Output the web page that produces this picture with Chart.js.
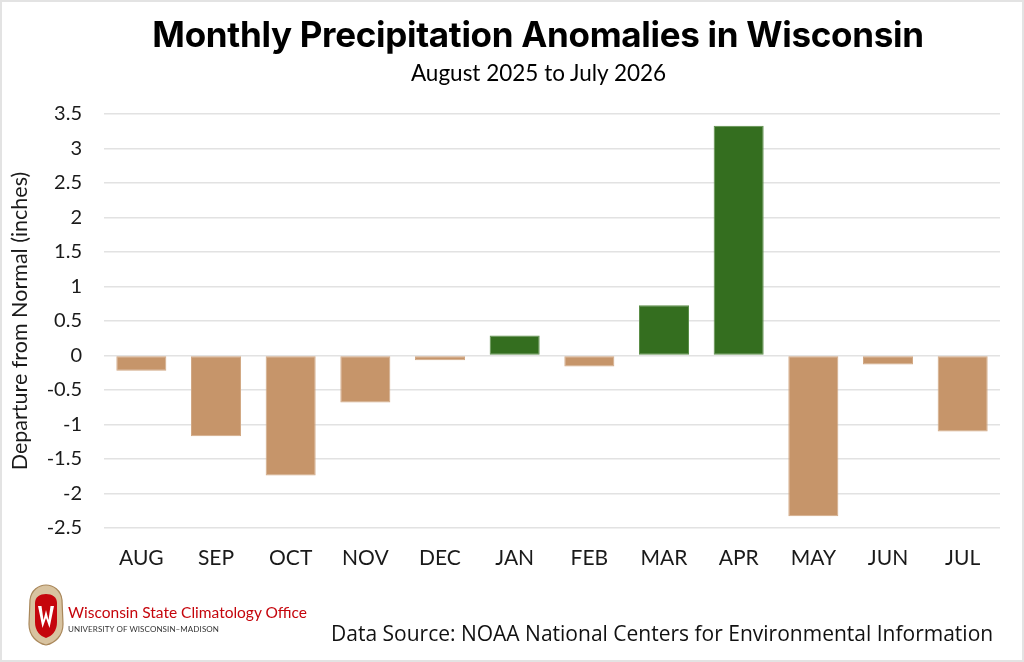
<!DOCTYPE html>
<html>
<head>
<meta charset="utf-8">
<script src="https://cdn.jsdelivr.net/npm/chart.js@4/dist/chart.umd.min.js"></script>
<style>
  html, body { margin: 0; padding: 0; background: #fff; }
  #wrap { position: relative; width: 1024px; height: 662px; overflow: hidden; }
  #frame { position: absolute; left: 0; top: 0; width: 1020px; height: 658px; border: 2px solid #e3e3e3; pointer-events: none; }
  canvas { position: absolute; left: 0; top: 0; }
  .txt { position: absolute; white-space: nowrap; color: #000; }
  #title { left: 0; width: 1076px; top: 13px; text-align: center; font: 700 35px "Inter", sans-serif; letter-spacing: -0.3px; }
  #subtitle { left: 0; width: 1077px; top: 59px; text-align: center; font: 400 22.5px "Lato", sans-serif; }
  #wsco { left: 68px; top: 603px; font: 400 15.5px "Lato", sans-serif; color: #c5050c; }
  #uw { left: 68px; top: 624px; font: 400 8px "Lato", sans-serif; color: #333; letter-spacing: 0.1px; }
  #source { left: 331px; top: 619px; font: 400 21px "Open Sans", sans-serif; color: #111; }
  #logo { position: absolute; left: 27px; top: 584px; }
</style>
</head>
<body>
<div id="wrap">
  <canvas id="precipChart" width="1024" height="662"></canvas>
  <div id="title" class="txt">Monthly Precipitation Anomalies in Wisconsin</div>
  <div id="subtitle" class="txt">August 2025 to July 2026</div>
  <svg id="logo" width="38" height="62" viewBox="0 0 38 62">
    <path d="M19 1 C26 1 34 6 35 16 L36 40 C36 52 28 59 19 61 C10 59 2 52 2 40 L3 16 C4 6 12 1 19 1 Z" fill="#d8c3a0" stroke="#a9875a" stroke-width="1.2"/>
    <path d="M19 10 C25 10 30 13 30 19 L30 38 C30 47 25 52 19 54 C13 52 8 47 8 38 L8 19 C8 13 13 10 19 10 Z" fill="#c5050c"/>
    <path d="M11 22 L14.5 22 L16.5 36 L19 26 L21.5 36 L23.5 22 L27 22 L22.5 44 L19 34 L15.5 44 Z" fill="#fff"/>
  </svg>
  <div id="wsco" class="txt">Wisconsin State Climatology Office</div>
  <div id="uw" class="txt">UNIVERSITY OF WISCONSIN–MADISON</div>
  <div id="source" class="txt">Data Source: NOAA National Centers for Environmental Information</div>
  <div id="frame"></div>
</div>
<script>
// months on the x axis
var months = ['AUG', 'SEP', 'OCT', 'NOV', 'DEC', 'JAN', 'FEB', 'MAR', 'APR', 'MAY', 'JUN', 'JUL'];
// departure from normal, inches
var departures = [-0.22, -1.17, -1.74, -0.68, -0.07, 0.29, -0.16, 0.73, 3.33, -2.33, -0.13, -1.10];
// y axis range and step
var yMin = -2.5;
var yMax = 3.5;
var yStep = 0.5;

var wetColor = '#346e1f';
var dryColor = '#c6956a';

var ctx = document.getElementById('precipChart');
var myChart = new Chart(ctx, {
    type: 'bar',
    data: {
        labels: months,
        datasets: [{
            data: departures,
            backgroundColor: departures.map(function(v) { return v >= 0 ? wetColor : dryColor; }),
            borderColor: departures.map(function(v) { return v >= 0 ? '#5c8f4a' : '#d2a985'; }),
            borderWidth: 1,
            borderSkipped: false,
            barPercentage: 0.67,
            categoryPercentage: 1
        }]
    },
    options: {
        responsive: false,
        animation: false,
        layout: {
            padding: { left: 0, right: 24, top: 114, bottom: 82 }
        },
        plugins: {
            legend: { display: false },
            tooltip: { enabled: false }
        },
        scales: {
            x: {
                grid: { display: false },
                border: { display: false },
                ticks: {
                    color: '#1a1a1a',
                    font: { family: 'Lato', size: 21 },
                    padding: 10,
                    maxRotation: 0
                },
                afterFit: function(scale) { scale.height = 52; }
            },
            y: {
                min: yMin,
                max: yMax,
                grid: { color: '#e2e2e2', lineWidth: 1.5, drawTicks: false },
                border: { display: false },
                ticks: {
                    stepSize: yStep,
                    color: '#1a1a1a',
                    font: { family: 'Lato', size: 20 },
                    padding: 22,
                    callback: function(v) { return String(v); }
                },
                title: {
                    display: true,
                    text: 'Departure from Normal (inches)',
                    color: '#1a1a1a',
                    font: { family: 'Lato', size: 21.5 },
                    padding: { top: 7, bottom: 0 }
                },
                afterFit: function(scale) { scale.width = 104; }
            }
        }
    }
});
</script>
</body>
</html>
